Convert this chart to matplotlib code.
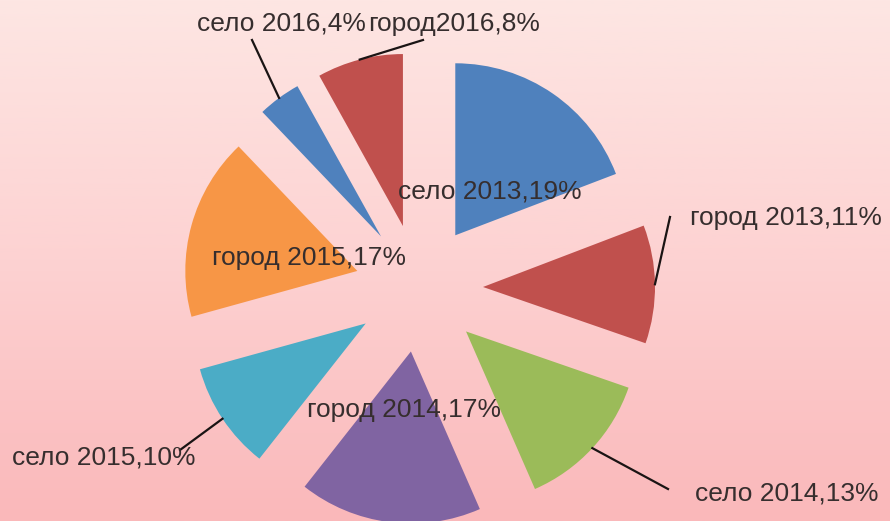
import numpy as np
import matplotlib
matplotlib.use('Agg')
from matplotlib import pyplot as plt
from matplotlib.colors import LinearSegmentedColormap

# data
categories = ['село 2013', 'город 2013', 'село 2014', 'город 2014',
              'село 2015', 'город 2015', 'село 2016', 'город2016']
shares = [19, 11, 13, 17, 10, 17, 4, 8]
colors = ['#4f81bd', '#c0504d', '#9bbb59', '#8064a2',
          '#4bacc6', '#f79646', '#4f81bd', '#c0504d']

# label layout in picture pixels (left x, centre y), and leader line end (or None)
label_pos = [(398, 192), (690, 218), (695, 493), (307, 410),
             (12, 458), (212, 258), (197, 24), (368, 24)]
leader_end = [None, (670, 217), (668, 489), None,
              (180, 450), None, (252, 40), (423, 40)]

W, H = 890, 521
fig = plt.figure(figsize=(W / 100, H / 100), dpi=100)
ax = fig.add_axes([0, 0, 1, 1])

# pink vertical gradient background
bg = LinearSegmentedColormap.from_list('bg', ['#fde6e3', '#fdd2d2', '#fab8ba'])
grad = np.linspace(0, 1, 256).reshape(-1, 1)
ax.imshow(grad, cmap=bg, extent=[0, W, 0, H], origin='upper', aspect='auto', zorder=0)

# explode is in data units here (pixels), since radius is not 1
wedges, _ = ax.pie(shares, colors=colors, radius=172, center=(419, H - 288),
                   explode=[64] * len(shares), startangle=90, counterclock=False,
                   wedgeprops=dict(linewidth=0, zorder=1))

txt_color = '#362e2e'
for i, w in enumerate(wedges):
    lx, ly = label_pos[i]
    ax.text(lx, H - ly, f'{categories[i]},{shares[i]}%', ha='left', va='center',
            fontsize=19, family='Liberation Sans', color=txt_color, zorder=3)
    if leader_end[i] is not None:
        a = np.deg2rad((w.theta1 + w.theta2) / 2)
        sx = w.center[0] + w.r * np.cos(a)
        sy = w.center[1] + w.r * np.sin(a)
        ex, ey = leader_end[i]
        ax.plot([sx, ex], [sy, H - ey], color='#1a1414', linewidth=1.6, zorder=2)

ax.set_xlim(0, W)
ax.set_ylim(0, H)
ax.set_axis_off()
plt.savefig('out.png', dpi=100)
